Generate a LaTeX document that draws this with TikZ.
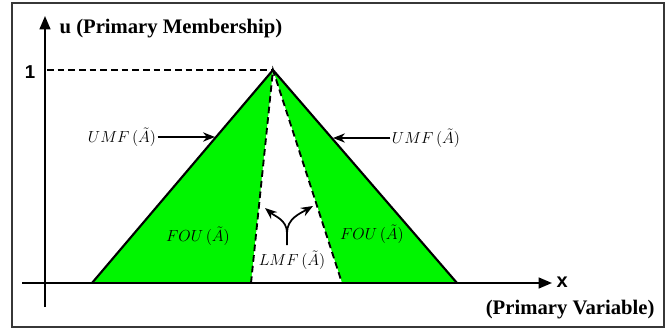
\documentclass[tikz,border=0pt]{standalone}
\usepackage{fontspec}
\setmainfont{Liberation Serif}
\newfontfamily\axisfont{Liberation Sans}
\usetikzlibrary{arrows.meta}
\definecolor{fougreen}{RGB}{0, 245, 0}
\definecolor{framegray}{RGB}{55, 55, 55}
\newcommand{\fsname}[1]{$#1\,(\tilde{A})$}

\begin{document}
\begin{tikzpicture}[x=0.75pt, y=0.75pt, every node/.style={inner sep=1pt},
    bound/.style={line width=1.6pt},
    lower/.style={line width=1.4pt, dash pattern=on 5pt off 3pt},
    axis/.style={line width=1.6pt, -{Triangle[length=10pt, width=8pt]}},
    pointer/.style={line width=1pt, -{Stealth[length=9pt, width=7pt]}},
    axislabel/.style={font=\fontsize{15.5}{18}\selectfont\bfseries},
    setlabel/.style={font=\fontsize{13}{15}\selectfont}]
    \useasboundingbox (0,0) rectangle (667,329);
    % Frame
    \draw[framegray, line width=1.5pt] (12,2) rectangle (664,326);

    % Corner points of the FOU
    \coordinate (peak) at (273,259);
    \coordinate (umfl) at (92,46);
    \coordinate (umfr) at (457,46);
    \coordinate (lmfl) at (251,46);
    \coordinate (lmfr) at (342,46);

    % Footprint of uncertainty
    \fill[fougreen] (umfl) -- (peak) -- (umfr) -- cycle;
    \fill[white] (lmfl) -- (peak) -- (lmfr) -- cycle;
    \draw[bound] (umfl) -- (peak) -- (umfr);
    \draw[lower] (lmfl) -- (peak) -- (lmfr);

    % Axes
    \coordinate (xstart) at (22,46);
    \coordinate (xend) at (552,46);
    \coordinate (ystart) at (45,22);
    \coordinate (yend) at (45,313);
    \draw[axis] (xstart) -- (xend);
    \draw[axis] (ystart) -- (yend);
    \node[axislabel, anchor=west] (ulab) at (58,300) {u (Primary Membership)};
    \node[font=\axisfont\fontsize{15}{18}\selectfont\bfseries, anchor=west] (xlab) at (555,47) {x};
    \node[axislabel, anchor=east] (xname) at (656,19) {(Primary Variable)};

    % Height one
    \node[font=\axisfont\fontsize{14}{16}\selectfont\bfseries] (one) at (30,257) {1};
    \coordinate (ytop) at (47,259);
    \draw[line width=0.8pt, dash pattern=on 5pt off 3pt] (ytop) -- (peak);

    % Membership function labels
    \node[setlabel] (umfa) at (122,192) {\fsname{UMF}};
    \node[setlabel] (umfb) at (426,191) {\fsname{UMF}};
    \coordinate (hitl) at (215,192);
    \coordinate (hitr) at (333,191);
    \draw[pointer] (umfa) -- (hitl);
    \draw[pointer] (umfb) -- (hitr);
    \node[setlabel] (foua) at (198,93) {\fsname{FOU}};
    \node[setlabel] (foub) at (372,95) {\fsname{FOU}};
    \node[setlabel] (lmf) at (292,69) {\fsname{LMF}};

    % Fork pointing at both lower bounds
    \coordinate (fork) at (287,84);
    \coordinate (forktop) at (287,96);
    \coordinate (tipl) at (265,121);
    \coordinate (tipr) at (313,123);
    \draw[pointer, line width=1.3pt] (fork) -- (forktop) to[out=90, in=-40] (tipl);
    \draw[pointer, line width=1.3pt] (forktop) to[out=90, in=-150] (tipr);
\end{tikzpicture}
\end{document}
